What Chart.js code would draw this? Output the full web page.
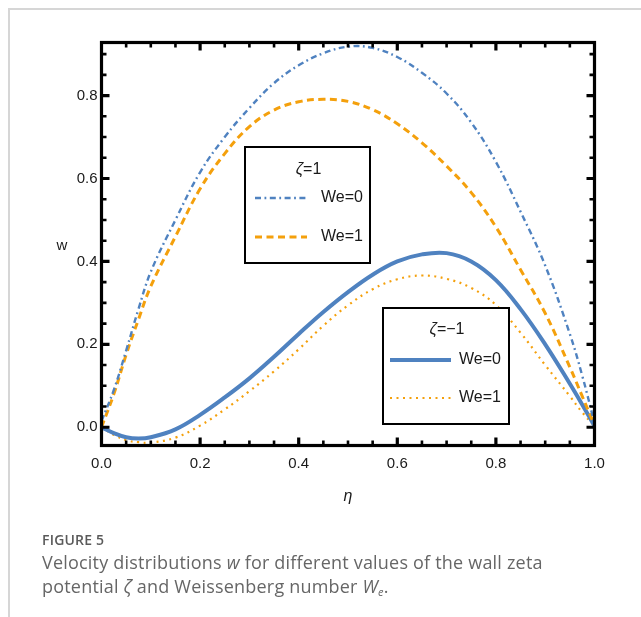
<!DOCTYPE html>
<html>
<head>
<meta charset="utf-8">
<script src="https://cdn.jsdelivr.net/npm/chart.js@4/dist/chart.umd.min.js"></script>
<style>
  html, body { margin: 0; padding: 0; background: #fff; }
  #wrap { position: relative; width: 641px; height: 617px; overflow: hidden; }
  #page { position: absolute; left: 8px; top: 8px; width: 700px; height: 700px;
          border-top: 2px solid #d6d6d6; border-left: 2px solid #d6d6d6; }
  #plot { position: absolute; left: 0; top: 0; }
  #cap { position: absolute; left: 42px; top: 530px; font-family: "Open Sans", "Noto Sans", sans-serif; color: #666; }
  #cap .fig { font-size: 14px; font-weight: 600; color: #5a5a5a; letter-spacing: 0.2px; line-height: 20px; }
  #cap .txt { font-size: 18px; letter-spacing: 0.2px; line-height: 24px; }
  #cap i { font-style: italic; }
  #cap sub { font-size: 11px; vertical-align: -3px; line-height: 0; }
</style>
</head>
<body>
<div id="wrap">
  <div id="page"></div>
  <canvas id="plot" width="641" height="617"></canvas>
  <div id="cap">
    <div class="fig">FIGURE 5</div>
    <div class="txt">Velocity distributions <i>w</i> for different values of the wall zeta<br>potential <i>ζ</i> and Weissenberg number <i>W<sub>e</sub></i>.</div>
  </div>
</div>
<script>
// η positions at which the velocity profiles are sampled
const eta = [0, 0.025, 0.05, 0.075, 0.1, 0.15, 0.2, 0.25, 0.3, 0.35, 0.4, 0.45, 0.5,
             0.55, 0.6, 0.65, 0.7, 0.75, 0.8, 0.85, 0.9, 0.95, 0.975, 1.0];

// ζ = 1
const wZetaPos_We0 = [0.015, 0.09, 0.185, 0.285, 0.375, 0.50, 0.615, 0.70, 0.77, 0.83, 0.873, 0.902, 0.918,
                      0.915, 0.893, 0.855, 0.805, 0.735, 0.64, 0.52, 0.39, 0.225, 0.125, 0.01];
const wZetaPos_We1 = [0.0, 0.08, 0.175, 0.26, 0.34, 0.46, 0.575, 0.66, 0.725, 0.765, 0.785, 0.791, 0.786,
                      0.766, 0.732, 0.686, 0.63, 0.566, 0.483, 0.38, 0.275, 0.145, 0.075, 0.005];
// ζ = -1
const wZetaNeg_We0 = [0.0, -0.014, -0.024, -0.027, -0.024, -0.005, 0.03, 0.072, 0.118, 0.17, 0.225, 0.278, 0.326,
                      0.368, 0.40, 0.417, 0.42, 0.40, 0.355, 0.285, 0.20, 0.105, 0.055, 0.003];
const wZetaNeg_We1 = [0.0, -0.018, -0.031, -0.036, -0.037, -0.025, 0.004, 0.043, 0.087, 0.135, 0.188, 0.245, 0.294,
                      0.333, 0.357, 0.366, 0.358, 0.336, 0.295, 0.228, 0.15, 0.075, 0.036, 0.003];

const seriesLabels = ['We=0', 'We=1', 'We=0', 'We=1'];
const groupTitles = ['=1', '=\u22121'];   // each preceded by an italic ζ

const xLabelTicks = [0, 0.2, 0.4, 0.6, 0.8, 1.0];
const xMinorTicks = [0.05, 0.1, 0.15, 0.25, 0.3, 0.35, 0.45, 0.5, 0.55, 0.65, 0.7, 0.75, 0.85, 0.9, 0.95];
const yLabelTicks = [0, 0.2, 0.4, 0.6, 0.8];
const yMinorTicks = [0.05, 0.1, 0.15, 0.25, 0.3, 0.35, 0.45, 0.5, 0.55, 0.65, 0.7, 0.75, 0.85, 0.9];

const BLUE = '#4f82c0';
const ORANGE = '#f4a00c';
const TICK_FONT = '"Liberation Sans", Arial, sans-serif';

const toPoints = ys => eta.map((x, i) => ({ x: x, y: ys[i] }));

// Inward tick marks on all four sides plus the heavy black frame
const framePlugin = {
  id: 'frame',
  afterDatasetsDraw(chart) {
    const { ctx, chartArea: a, scales: { x, y } } = chart;
    ctx.save();
    ctx.strokeStyle = '#000';
    ctx.lineCap = 'butt';
    const tick = (vals, len, w) => {
      ctx.lineWidth = w;
      vals.forEach(v => {
        if (v <= 0 || v >= 1) return;
        const px = x.getPixelForValue(v);
        ctx.beginPath();
        ctx.moveTo(px, a.bottom); ctx.lineTo(px, a.bottom - len);
        ctx.moveTo(px, a.top); ctx.lineTo(px, a.top + len);
        ctx.stroke();
      });
    };
    const ytick = (vals, len, w) => {
      ctx.lineWidth = w;
      vals.forEach(v => {
        const py = y.getPixelForValue(v);
        ctx.beginPath();
        ctx.moveTo(a.left, py); ctx.lineTo(a.left + len, py);
        ctx.moveTo(a.right, py); ctx.lineTo(a.right - len, py);
        ctx.stroke();
      });
    };
    tick(xLabelTicks, 8, 3.2);
    tick(xMinorTicks, 5, 2.6);
    ytick(yLabelTicks, 8, 3.2);
    ytick(yMinorTicks, 5, 2.6);
    ctx.lineWidth = 3.2;
    ctx.strokeRect(a.left, a.top, a.right - a.left, a.bottom - a.top);

    // axis titles
    ctx.fillStyle = '#1a1a1a';
    ctx.textAlign = 'center';
    ctx.textBaseline = 'middle';
    ctx.font = '15px ' + TICK_FONT;
    ctx.fillText('w', 62, 246);
    ctx.font = 'italic 16px ' + TICK_FONT;
    ctx.fillText('\u03b7', (a.left + a.right) / 2, 497);
    ctx.restore();
  }
};

// Two boxed legends, one per ζ group
const legendBoxes = [
  { sets: [0, 1], title: 0, left: 245, top: 147, width: 125, height: 116, titleY: 23, rows: [51, 90], line: [10, 62], textX: 76 },
  { sets: [2, 3], title: 1, left: 383, top: 308, width: 126, height: 116, titleY: 22, rows: [52, 90], line: [7, 68], textX: 76 }
];
const legendPlugin = {
  id: 'zetaLegends',
  afterDraw(chart) {
    const ctx = chart.ctx;
    ctx.save();
    legendBoxes.forEach(b => {
      ctx.fillStyle = '#fff';
      ctx.fillRect(b.left, b.top, b.width, b.height);
      ctx.strokeStyle = '#000';
      ctx.lineWidth = 2;
      ctx.setLineDash([]);
      ctx.strokeRect(b.left, b.top, b.width, b.height);

      // group title: italic ζ followed by "=value"
      ctx.fillStyle = '#1a1a1a';
      ctx.textBaseline = 'middle';
      ctx.textAlign = 'left';
      const zFont = 'italic 16px ' + TICK_FONT, rFont = '16px ' + TICK_FONT;
      ctx.font = zFont; const wz = ctx.measureText('\u03b6').width;
      ctx.font = rFont; const wr = ctx.measureText(groupTitles[b.title]).width;
      const cx = b.left + b.width / 2, tx = cx - (wz + wr) / 2 + 1, ty = b.top + b.titleY;
      ctx.font = zFont; ctx.fillText('\u03b6', tx, ty);
      ctx.font = rFont; ctx.fillText(groupTitles[b.title], tx + wz, ty);

      b.sets.forEach((di, k) => {
        const ds = chart.data.datasets[di];
        const yy = b.top + b.rows[k];
        ctx.strokeStyle = ds.borderColor;
        ctx.lineWidth = ds.borderWidth;
        ctx.setLineDash(ds.borderDash || []);
        ctx.beginPath();
        ctx.moveTo(b.left + b.line[0], yy);
        ctx.lineTo(b.left + b.line[1], yy);
        ctx.stroke();
        ctx.setLineDash([]);
        ctx.font = rFont;
        ctx.fillText(ds.label, b.left + b.textX, yy);
      });
    });
    ctx.restore();
  }
};

new Chart(document.getElementById('plot'), {
  type: 'line',
  data: {
    datasets: [
      { label: seriesLabels[0], data: toPoints(wZetaPos_We0), borderColor: BLUE, borderWidth: 2.4, borderDash: [6, 3.5, 1.8, 3.5] },
      { label: seriesLabels[1], data: toPoints(wZetaPos_We1), borderColor: ORANGE, borderWidth: 3, borderDash: [7, 4.5] },
      { label: seriesLabels[2], data: toPoints(wZetaNeg_We0), borderColor: BLUE, borderWidth: 4 },
      { label: seriesLabels[3], data: toPoints(wZetaNeg_We1), borderColor: ORANGE, borderWidth: 2.2, borderDash: [2, 4.5] }
    ]
  },
  options: {
    responsive: false,
    animation: false,
    devicePixelRatio: 1,
    layout: { padding: { left: 0, top: 42.5, right: 46.5, bottom: 0 } },
    elements: { point: { radius: 0 }, line: { tension: 0.4, fill: false, borderCapStyle: 'butt' } },
    plugins: { legend: { display: false }, tooltip: { enabled: false } },
    scales: {
      x: {
        type: 'linear', min: 0, max: 1,
        afterBuildTicks: s => { s.ticks = xLabelTicks.map(v => ({ value: v })); },
        afterFit: s => { s.height = 171.5; },
        grid: { display: false, drawTicks: false },
        border: { display: false },
        ticks: { padding: 9, autoSkip: false, maxRotation: 0, color: '#1a1a1a',
                 font: { family: TICK_FONT, size: 15 }, callback: v => Number(v).toFixed(1) }
      },
      y: {
        type: 'linear', min: -0.044, max: 0.928,
        afterBuildTicks: s => { s.ticks = yLabelTicks.map(v => ({ value: v })); },
        afterFit: s => { s.width = 101.5; },
        grid: { display: false, drawTicks: false },
        border: { display: false },
        ticks: { padding: 4, color: '#1a1a1a',
                 font: { family: TICK_FONT, size: 15 }, callback: v => Number(v).toFixed(1) }
      }
    }
  },
  plugins: [framePlugin, legendPlugin]
});
</script>
</body>
</html>
